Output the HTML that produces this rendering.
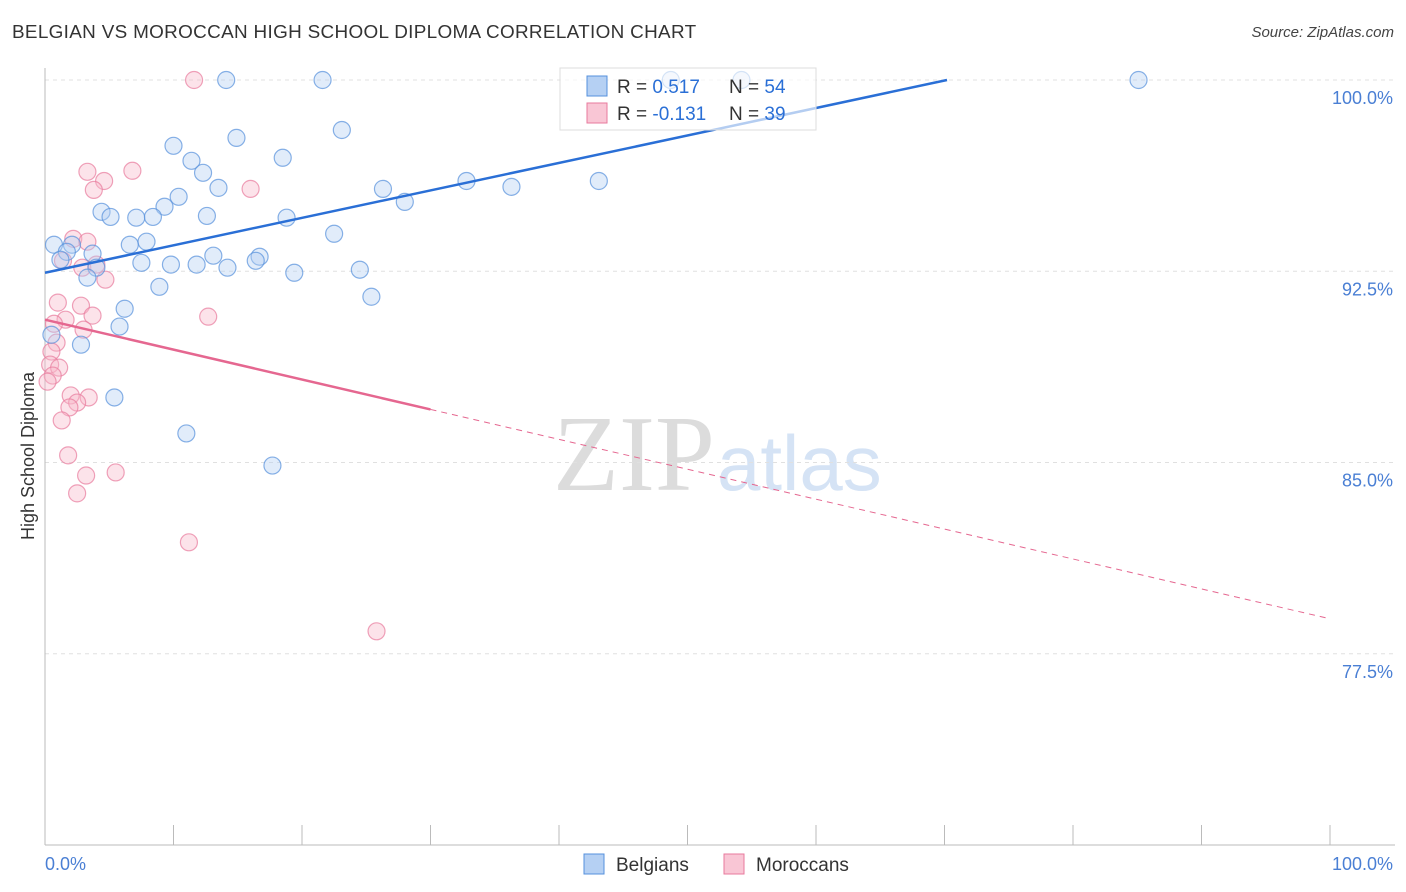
<!DOCTYPE html>
<html><head><meta charset="utf-8">
<style>
body{margin:0;background:#fff;font-family:"Liberation Sans",sans-serif;}
#wrap{position:relative;width:1406px;height:892px;overflow:hidden;}
.t{position:absolute;white-space:nowrap;}
</style></head><body>
<div id="wrap">
<div class="t" style="left:12px;top:22px;font-size:18px;letter-spacing:0.3px;transform:scaleX(1.05);transform-origin:left;color:#333;">BELGIAN VS MOROCCAN HIGH SCHOOL DIPLOMA CORRELATION CHART</div>
<div class="t" style="right:12px;top:24px;font-size:15px;color:#444;font-style:italic;">Source: ZipAtlas.com</div>
<svg id="chart" width="1406" height="892" style="position:absolute;left:0;top:0"></svg>
</div>
<script>
const yTicks=[100,92.5,85,77.5];
const yTickLabels=["100.0%","92.5%","85.0%","77.5%"];
const blueX=[14.1,21.6,48.7,54.2,85.1,23.1,14.9,10.0,18.5,11.4,12.3,32.8,43.1,13.5,26.3,36.3,10.4,28.0,9.3,4.4,5.1,7.1,8.4,12.6,18.8,22.5,0.7,6.6,7.9,2.1,1.7,3.7,13.1,16.7,16.4,1.2,7.5,9.8,11.8,14.2,24.5,4.0,3.3,19.4,8.9,25.4,6.2,5.8,2.8,0.5,5.4,11.0,17.7];
const blueY=[100,100,100,100,100,98.04,97.73,97.42,96.95,96.83,96.36,96.04,96.04,95.77,95.73,95.81,95.42,95.22,95.03,94.83,94.63,94.6,94.63,94.67,94.6,93.97,93.54,93.54,93.66,93.54,93.26,93.19,93.11,93.07,92.91,92.95,92.83,92.76,92.76,92.64,92.56,92.64,92.25,92.44,91.89,91.5,91.03,90.33,89.62,90.01,87.55,86.14,84.88];
const pinkX=[11.6,3.3,6.8,4.6,3.8,16.0,2.2,3.3,1.4,2.9,4.0,4.7,1.0,2.8,3.7,1.6,12.7,0.7,3.0,0.9,0.5,0.4,1.1,0.6,0.2,2.0,3.4,2.5,1.9,1.3,1.8,3.2,5.5,2.5,11.2,25.8];
const pinkY=[100,96.4,96.44,96.04,95.69,95.73,93.77,93.66,92.91,92.64,92.76,92.17,91.27,91.15,90.76,90.6,90.72,90.44,90.21,89.7,89.35,88.84,88.72,88.41,88.17,87.63,87.55,87.35,87.16,86.65,85.28,84.49,84.61,83.79,81.87,78.38];
const blueLine=[92.44,0.1077];
const pinkLine=[90.6,-0.1173];

const svg=document.getElementById('chart');
const NS='http://www.w3.org/2000/svg';
const X0=45,X1=1330,Y0=845,Y1=80;
const sx=v=>X0+(v/100)*(X1-X0);
const sy=v=>Y0-(v-70)/30*(Y0-Y1);
function mk(tag,attrs,parent){const e=document.createElementNS(NS,tag);for(const k in attrs)e.setAttribute(k,attrs[k]);(parent||svg).appendChild(e);return e;}

let wm=mk('text',{x:553,y:490,'font-size':108,fill:'#dcdcdc','font-family':'Liberation Serif, serif'});wm.textContent='ZIP';


let wm2=mk('text',{x:717,y:490,'font-size':78,fill:'#d5e3f5','font-family':'Liberation Sans, sans-serif'});wm2.textContent='atlas';



yTicks.forEach((t,i)=>{
 const g=mk('line',{x1:X0,x2:1395,y1:sy(t),y2:sy(t),stroke:'#e0e0e0','stroke-dasharray':'4,4'});
 
 
 const l=mk('text',{x:1393,y:sy(t)+24,'text-anchor':'end','font-size':18,fill:'#4a7fd4'});l.textContent=yTickLabels[i];
 
 
});
let ya=mk('line',{x1:X0,x2:X0,y1:68,y2:Y0,stroke:'#bbb'});


let xa=mk('line',{x1:X0,x2:1395,y1:Y0,y2:Y0,stroke:'#bbb'});


for(let i=0;i<=10;i++){const tk=mk('line',{x1:sx(i*10),x2:sx(i*10),y1:Y0,y2:825,stroke:'#bbb'});
 
 }
let xl0=mk('text',{x:45,y:870,'font-size':18,fill:'#4a7fd4'});xl0.textContent='0.0%';


let xl1=mk('text',{x:1393,y:870,'font-size':18,fill:'#4a7fd4','text-anchor':'end'});xl1.textContent='100.0%';


let yt=mk('text',{x:34,y:456,'font-size':18,fill:'#333','text-anchor':'middle',transform:'rotate(-90 34 456)'});yt.textContent='High School Diploma';



function pts(xs,ys,fill,stroke,name){xs.forEach((x,i)=>{const c=mk('circle',{cx:sx(x),cy:sy(ys[i]),r:8.5,fill:fill,'fill-opacity':0.4,stroke:stroke,'stroke-width':1.2,'stroke-opacity':0.7});
 
 });}
pts(pinkX,pinkY,'#f7b8cb','#e87a9d','moroccan-point');
pts(blueX,blueY,'#b5d0f3','#5590dc','belgian-point');

const bx2=(100-blueLine[0])/blueLine[1];
let bl=mk('line',{x1:sx(0),y1:sy(blueLine[0]),x2:sx(bx2),y2:sy(100),stroke:'#2a6fd6','stroke-width':2.5});


let pl=mk('line',{x1:sx(0),y1:sy(pinkLine[0]),x2:sx(30),y2:sy(pinkLine[0]+30*pinkLine[1]),stroke:'#e56790','stroke-width':2.5});


let pd=mk('line',{x1:sx(30),y1:sy(pinkLine[0]+30*pinkLine[1]),x2:sx(99.8),y2:sy(pinkLine[0]+99.8*pinkLine[1]),stroke:'#e56790','stroke-width':1,'stroke-dasharray':'6,5'});



let lb=mk('rect',{x:560,y:68,width:256,height:62,fill:'#fff','fill-opacity':0.65,stroke:'#ddd'});


const rows=[['#b5d0f3','#5590dc','0.517','54',86],['#f9c6d5','#e87a9d','-0.131','39',113]];
rows.forEach((r,i)=>{
 const s=mk('rect',{x:587,y:r[4]-10,width:20,height:20,fill:r[0],stroke:r[1]});
 
 
 const t=mk('text',{x:617,y:r[4]+7,'font-size':19,fill:'#333'});
 t.innerHTML='R = <tspan fill="#2a6fd6">'+(i?'':' ')+r[2]+'</tspan><tspan x="729">N = </tspan><tspan fill="#2a6fd6">'+r[3]+'</tspan>';
 
 
});
[['#b5d0f3','#5590dc','Belgians',584],['#f9c6d5','#e87a9d','Moroccans',724]].forEach(r=>{
 const s=mk('rect',{x:r[3],y:854,width:20,height:20,fill:r[0],stroke:r[1]});
 
 
 const t=mk('text',{x:r[3]+32,y:871,'font-size':19,fill:'#333'});t.textContent=r[2];
 
 
});
</script>
</body></html>
